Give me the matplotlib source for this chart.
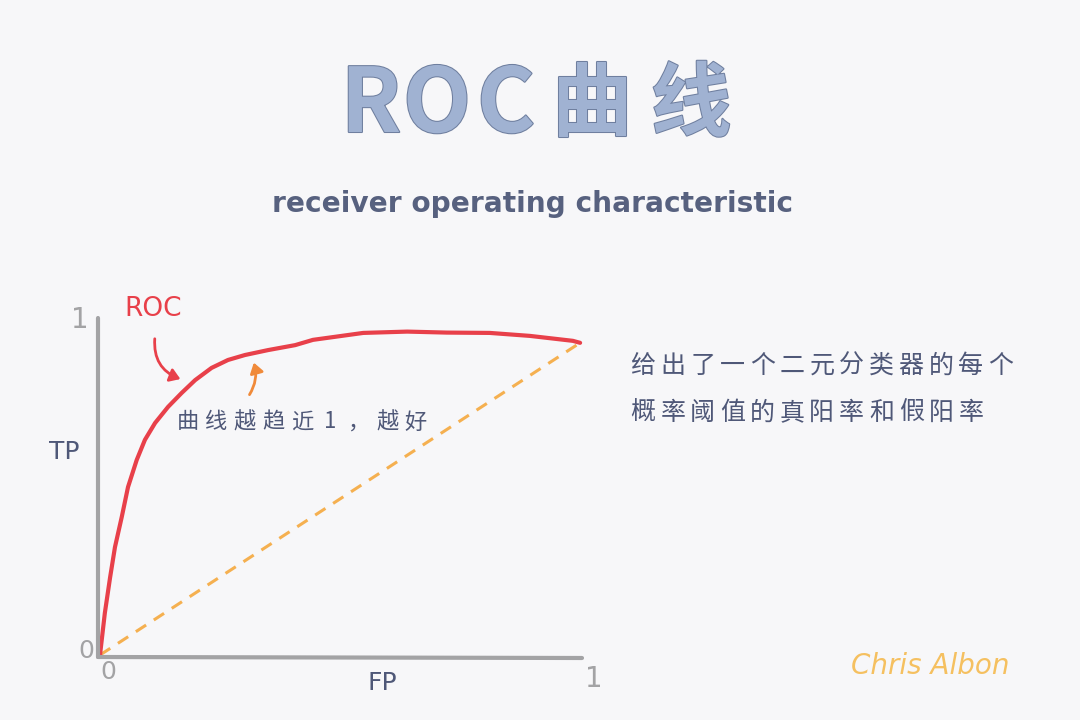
import matplotlib
matplotlib.use("Agg")
import matplotlib.pyplot as plt
import matplotlib.patheffects as pe
from matplotlib.patches import FancyArrowPatch

plt.rcParams['font.family'] = ['Noto Sans CJK SC', 'DejaVu Sans']

# data
fpr = [0.0, 0.010, 0.021, 0.031, 0.045, 0.058, 0.076, 0.093, 0.114, 0.141, 0.169, 0.197, 0.231,
       0.265, 0.300, 0.348, 0.404, 0.441, 0.545, 0.636, 0.718, 0.807, 0.890, 0.979, 0.994]
tpr = [0.0, 0.127, 0.236, 0.327, 0.418, 0.509, 0.591, 0.652, 0.703, 0.752, 0.794, 0.833, 0.870,
       0.894, 0.909, 0.924, 0.939, 0.955, 0.976, 0.980, 0.977, 0.976, 0.967, 0.952, 0.946]
diag_x = [0.0, 0.994]
diag_y = [0.0, 0.946]
title = "ROC曲线"
subtitle = "receiver operating characteristic"
note = "曲线越趋近1，越好"
desc_lines = ["给出了一个二元分类器的每个", "概率阈值的真阳率和假阳率"]

bg = "#f7f7f9"
fig = plt.figure(figsize=(10.8, 7.2), dpi=100, facecolor=bg)

W, H = 1080, 720
def fx(px): return px / W
def fy(py): return 1 - py / H

# axes: data x 0..1 -> px 100..583, y 0..1 -> py 655..325
x0p, x1p, y0p, y1p = 100, 583, 655, 325
ax = fig.add_axes([fx(x0p), fy(y0p), (x1p - x0p) / W, (y0p - y1p) / H])
ax.set_xlim(0, 1)
ax.set_ylim(0, 1)
ax.set_facecolor('none')
ax.axis('off')

grey = "#a3a3a5"
# axis lines
fig.add_artist(plt.Line2D([fx(98), fx(98)], [fy(657), fy(318)], color=grey, lw=3, solid_capstyle='round'))
fig.add_artist(plt.Line2D([fx(98), fx(582)], [fy(657), fy(658)], color=grey, lw=3, solid_capstyle='round'))

ax.plot(diag_x, diag_y, color="#f5b050", lw=2.2, ls=(0, (4, 3)), clip_on=False)
ax.plot(fpr, tpr, color="#e8404a", lw=3, clip_on=False, solid_capstyle='round', solid_joinstyle='round')

# ticks
fig.text(fx(80), fy(320), "1", color=grey, fontsize=20, ha='center', va='center', family='DejaVu Sans')
fig.text(fx(86), fy(651), "0", color=grey, fontsize=18, ha='center', va='center', family='DejaVu Sans')
fig.text(fx(108), fy(672), "0", color=grey, fontsize=18, ha='center', va='center', family='DejaVu Sans')
fig.text(fx(594), fy(679), "1", color=grey, fontsize=20, ha='center', va='center', family='DejaVu Sans')

lab = "#4f5878"
fig.text(fx(64), fy(452), "TP", color=lab, fontsize=18, ha='center', va='center', family='DejaVu Sans')
fig.text(fx(382), fy(683), "FP", color=lab, fontsize=18, ha='center', va='center', family='DejaVu Sans')

# title, letter by letter
title_x = [371, 437, 506, 592, 691]
title_fs = [64, 64, 64, 58, 58]
stroke = [pe.withStroke(linewidth=1.5, foreground="#6f7f9f")]
for ch, x, fs in zip(title, title_x, title_fs):
    fig.text(fx(x), fy(106), ch, color="#a0b2d2", fontsize=fs, fontweight='bold', ha='center',
             va='center', path_effects=stroke)

fig.text(fx(532), fy(204), subtitle, color="#57617f", fontsize=20.2, fontweight='bold', ha='center',
         va='center', family='DejaVu Sans')

# ROC label + arrow
fig.text(fx(153), fy(309), "ROC", color="#e8404a", fontsize=19, ha='center', va='center', family='DejaVu Sans')
fig.add_artist(FancyArrowPatch((fx(155), fy(336)), (fx(183), fy(380)), transform=fig.transFigure,
                               connectionstyle="arc3,rad=0.4", arrowstyle="-|>,head_length=6,head_width=4",
                               color="#e8404a", lw=2))
# note + arrow
fig.add_artist(FancyArrowPatch((fx(248), fy(397)), (fx(253), fy(360)), transform=fig.transFigure,
                               connectionstyle="arc3,rad=0.25", arrowstyle="-|>,head_length=6,head_width=4",
                               color="#f08a3a", lw=2))

def spaced(text, x, y, step, **kw):
    for i, ch in enumerate(text):
        fig.text(fx(x + step * i), fy(y), ch, ha='center', va='center', **kw)

spaced(note, 188, 422, 28.5, color=lab, fontsize=16)

for i, line in enumerate(desc_lines):
    spaced(line, 643, 366 + 47 * i, 29.8, color=lab, fontsize=18)

fig.text(fx(930), fy(666), "Chris Albon", color="#f5c060", fontsize=20, ha='center', va='center',
         family='DejaVu Sans', style='italic')

fig.savefig("out.png", dpi=100, facecolor=bg)
